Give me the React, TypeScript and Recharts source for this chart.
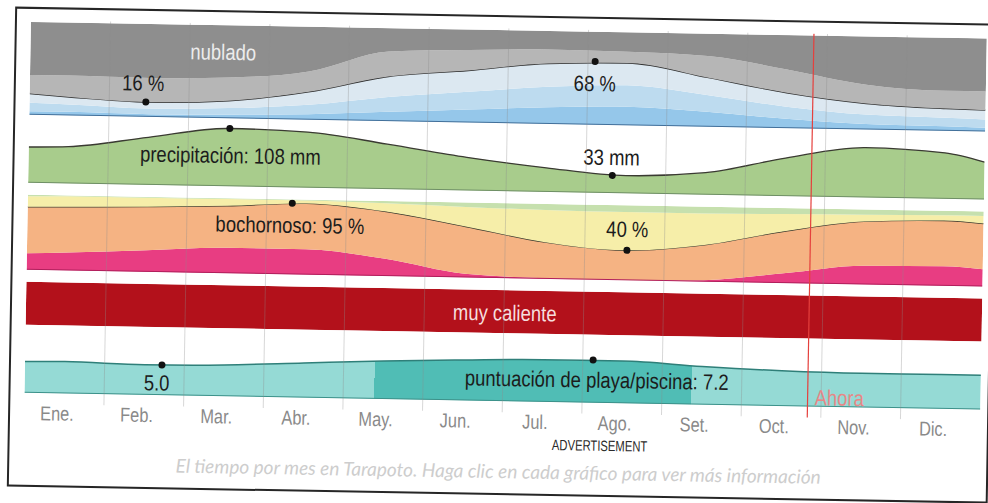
import React from "react";
import {
  AreaChart,
  Area,
  LineChart,
  Line,
  XAxis,
  YAxis,
  ReferenceLine,
  ReferenceDot,
} from "recharts";

// sample positions in months from 1 Jan: the two year ends and every month middle
const samplePos = [0, 0.5, 1.5, 2.5, 3.5, 4.5, 5.5, 6.5, 7.5, 8.5, 9.5, 10.5, 11.5, 12];
const monthLabels = ["Ene.", "Feb.", "Mar.", "Abr.", "May.", "Jun.", "Jul.", "Ago.", "Set.", "Oct.", "Nov.", "Dic."];
const monthMiddles = [0.5, 1.5, 2.5, 3.5, 4.5, 5.5, 6.5, 7.5, 8.5, 9.5, 10.5, 11.5];
const monthStarts = [1, 2, 3, 4, 5, 6, 7, 8, 9, 10, 11];
const nowMonth = 9.83;

// cloud cover, % of time in each category (bottom to top)
const cloudClear = [4, 4, 3, 4, 6, 10, 14, 18, 20, 16, 10, 6, 5, 4];
const cloudMostlyClear = [9, 8, 6, 7, 10, 16, 19, 22, 23, 18, 13, 10, 9, 9];
const cloudPartly = [10, 8, 7, 8, 14, 22, 23, 25, 24, 19, 15, 12, 10, 10];
const cloudMostlyCloudy = [20, 23, 26, 25, 22, 27, 22, 15, 12, 23, 25, 20, 19, 20];
const cloudOvercast = [57, 57, 58, 56, 48, 25, 22, 20, 21, 24, 37, 52, 57, 57];

// monthly rainfall, mm
const rainMm = [67, 69, 89, 108, 104, 84, 62, 45, 33, 41, 71, 93, 86, 70];

// humidity comfort, % of time (bottom to top)
const humidOppressive = [22, 24, 29, 34, 34, 23, 5, 1, 0, 2, 13, 25, 26, 23];
const humidMuggy = [62, 61, 58, 56, 61, 63, 63, 48, 40, 47, 56, 59, 61, 61];
const humidComfortable = [14, 14, 12, 9, 4, 11, 26, 43, 51, 42, 23, 9, 7, 10];
const humidDry = [2, 1, 1, 1, 1, 3, 6, 8, 9, 9, 8, 7, 6, 6];

// temperature class: "muy caliente" all year
const hotBand = [1, 1, 1, 1, 1, 1, 1, 1, 1, 1, 1, 1, 1, 1];

// beach / pool score
const beachScore = [5.2, 5.3, 5.0, 5.2, 5.8, 6.4, 6.8, 7.1, 7.1, 6.4, 5.9, 5.7, 5.7, 5.7];
const beachBestStart = 4.39;
const beachBestEnd = 8.37;

// marked extremes
const cloudMin = { m: 1.46, v: 16 };
const cloudMax = { m: 7.09, v: 68 };
const rainMax = { m: 2.52, v: 108 };
const rainMin = { m: 7.33, v: 33 };
const humidMax = { m: 3.32, v: 95 };
const humidMin = { m: 7.53, v: 40 };
const beachMin = { m: 1.72, v: 5.0 };
const beachMax = { m: 7.13, v: 7.2 };

const cloudRows = samplePos.map((m, i) => ({
  m,
  clear: cloudClear[i],
  mostlyClear: cloudMostlyClear[i],
  partly: cloudPartly[i],
  mostlyCloudy: cloudMostlyCloudy[i],
  overcast: cloudOvercast[i],
}));
const rainRows = samplePos.map((m, i) => ({ m, rain: rainMm[i] }));
const humidRows = samplePos.map((m, i) => ({
  m,
  oppressive: humidOppressive[i],
  muggy: humidMuggy[i],
  comfortable: humidComfortable[i],
  dry: humidDry[i],
}));
const hotRows = samplePos.map((m, i) => ({ m, hot: hotBand[i] }));
const beachRows = samplePos.map((m, i) => ({ m, score: beachScore[i] }));
const tickRows = monthMiddles.map((m) => ({ m, z: 0 }));

const PLOT_LEFT = 27;
const PLOT_W = 956;
const noMargin = { top: 0, right: 0, bottom: 0, left: 0 };
const sans = "'Liberation Sans', Arial, sans-serif";

// condensed text (Arial Narrow look) centred on the dot plus an offset
const DotLabel = (props: any) => {
  const { viewBox, t, ox = 0, oy = 0, fill = "#1c1c1c", size = 22 } = props;
  const cx = viewBox.x + viewBox.width / 2 + ox;
  const cy = viewBox.y + viewBox.height / 2 + oy;
  return (
    <text
      transform={`translate(${cx},${cy}) scale(0.84,1)`}
      textAnchor="middle"
      dominantBaseline="central"
      fill={fill}
      fontSize={size}
      fontFamily={sans}
    >
      {t}
    </text>
  );
};

const NowLabel = (props: any) => {
  const { viewBox } = props;
  return (
    <text
      transform={`translate(${viewBox.x + 7},${viewBox.y + viewBox.height - 20}) scale(0.84,1)`}
      textAnchor="start"
      dominantBaseline="central"
      fill="#e78787"
      fontSize={22}
      fontFamily={sans}
    >
      Ahora
    </text>
  );
};

const MonthTick = (props: any) => {
  const { x, y, index } = props;
  return (
    <text
      transform={`translate(${x - 7},${y + 9}) scale(0.82,1)`}
      textAnchor="middle"
      dominantBaseline="central"
      fill="#8a8a8a"
      fontSize={20}
      fontFamily={sans}
    >
      {monthLabels[index]}
    </text>
  );
};

export default function App() {
  const xAxis = <XAxis type="number" dataKey="m" domain={[0, 12]} hide allowDataOverflow />;
  const band = (top: number) => ({ position: "absolute" as const, left: PLOT_LEFT, top });

  return (
    <div
      style={{
        position: "absolute",
        left: 0,
        top: 0,
        width: 988,
        height: 503,
        background: "#fff",
        overflow: "hidden",
      }}
    >
      <div
        style={{
          position: "absolute",
          left: 0,
          top: 0,
          width: 988,
          height: 503,
          transform: "rotate(1deg)",
          transformOrigin: "494px 251px",
        }}
      >
        <div
          style={{
            position: "absolute",
            left: 11,
            top: 15,
            width: 981,
            height: 480,
            border: "2px solid #262626",
            boxSizing: "border-box",
          }}
        />

        {/* cloud cover */}
        <div style={band(30)}>
          <AreaChart width={PLOT_W} height={93} data={cloudRows} margin={noMargin}>
            {xAxis}
            <YAxis hide domain={[0, 100]} allowDataOverflow />
            <Area type="monotone" dataKey="clear" stackId="c" fill="#95c7ea" fillOpacity={1} stroke="none" isAnimationActive={false} />
            <Area type="monotone" dataKey="mostlyClear" stackId="c" fill="#bddbef" fillOpacity={1} stroke="none" isAnimationActive={false} />
            <Area type="monotone" dataKey="partly" stackId="c" fill="#dce8f1" fillOpacity={1} stroke="#2e2e2e" strokeWidth={1.4} isAnimationActive={false} />
            <Area type="monotone" dataKey="mostlyCloudy" stackId="c" fill="#b6b6b6" fillOpacity={1} stroke="none" isAnimationActive={false} />
            <Area type="monotone" dataKey="overcast" stackId="c" fill="#8e8e8e" fillOpacity={1} stroke="none" isAnimationActive={false} />
            <ReferenceLine y={0} stroke="#43709a" strokeWidth={2} />
            <ReferenceDot x={2.42} y={71} r={0} fill="none" stroke="none" label={<DotLabel t="nublado" fill="#ececec" />} />
            <ReferenceDot x={cloudMin.m} y={cloudMin.v} r={3.5} fill="#111" stroke="none" label={<DotLabel t="16 %" ox={-3} oy={-19} />} />
            <ReferenceDot x={cloudMax.m} y={cloudMax.v} r={3.5} fill="#111" stroke="none" label={<DotLabel t="68 %" ox={0} oy={22} />} />
          </AreaChart>
        </div>

        {/* precipitation */}
        <div style={band(123)}>
          <AreaChart width={PLOT_W} height={68} data={rainRows} margin={noMargin}>
            {xAxis}
            <YAxis hide domain={[0, 127]} allowDataOverflow />
            <Area type="monotone" dataKey="rain" fill="#a8cc8c" fillOpacity={1} stroke="#3a3a32" strokeWidth={1.3} isAnimationActive={false} />
            <ReferenceLine y={0} stroke="#6f8f66" strokeWidth={2} />
            <ReferenceDot x={rainMax.m} y={rainMax.v} r={3.5} fill="#111" stroke="none" label={<DotLabel t="precipitación: 108 mm" ox={1} oy={27} />} />
            <ReferenceDot x={rainMin.m} y={rainMin.v} r={3.5} fill="#111" stroke="none" label={<DotLabel t="33 mm" ox={-1} oy={-18} />} />
          </AreaChart>
        </div>

        {/* humidity comfort */}
        <div style={band(203)}>
          <AreaChart width={PLOT_W} height={75} data={humidRows} margin={noMargin}>
            {xAxis}
            <YAxis hide domain={[0, 100]} allowDataOverflow />
            <Area type="monotone" dataKey="oppressive" stackId="h" fill="#e83d82" fillOpacity={1} stroke="none" isAnimationActive={false} />
            <Area type="monotone" dataKey="muggy" stackId="h" fill="#f5b383" fillOpacity={1} stroke="#3a3a2e" strokeWidth={1.3} isAnimationActive={false} />
            <Area type="monotone" dataKey="comfortable" stackId="h" fill="#f6eea9" fillOpacity={1} stroke="none" isAnimationActive={false} />
            <Area type="monotone" dataKey="dry" stackId="h" fill="#c6e0ae" fillOpacity={1} stroke="none" isAnimationActive={false} />
            <ReferenceLine y={0} stroke="#b01f5c" strokeWidth={2} />
            <ReferenceDot x={humidMax.m} y={humidMax.v} r={3.5} fill="#111" stroke="none" label={<DotLabel t="bochornoso: 95 %" ox={-2} oy={22} />} />
            <ReferenceDot x={humidMin.m} y={humidMin.v} r={3.5} fill="#111" stroke="none" label={<DotLabel t="40 %" ox={0} oy={-21} />} />
          </AreaChart>
        </div>

        {/* temperature class */}
        <div style={band(290)}>
          <AreaChart width={PLOT_W} height={43} data={hotRows} margin={noMargin}>
            {xAxis}
            <YAxis hide domain={[0, 1]} allowDataOverflow />
            <Area type="linear" dataKey="hot" fill="#b3111b" fillOpacity={1} stroke="none" isAnimationActive={false} />
            <ReferenceDot x={6.01} y={0.47} r={0} fill="none" stroke="none" label={<DotLabel t="muy caliente" fill="#f6dede" />} />
          </AreaChart>
        </div>

        {/* beach / pool score */}
        <div style={band(344)}>
          <AreaChart width={PLOT_W} height={57} data={beachRows} margin={noMargin}>
            <defs>
              <linearGradient id="beachFill" x1="0" y1="0" x2="1" y2="0">
                <stop offset={0} stopColor="#95dad5" />
                <stop offset={beachBestStart / 12} stopColor="#95dad5" />
                <stop offset={beachBestStart / 12} stopColor="#50bdb5" />
                <stop offset={beachBestEnd / 12} stopColor="#50bdb5" />
                <stop offset={beachBestEnd / 12} stopColor="#95dad5" />
                <stop offset={1} stopColor="#95dad5" />
              </linearGradient>
            </defs>
            {xAxis}
            <YAxis hide domain={[-0.3, 9.7]} allowDataOverflow />
            <Area type="monotone" dataKey="score" baseValue="dataMin" fill="url(#beachFill)" fillOpacity={1} stroke="#2f7f79" strokeWidth={1.5} isAnimationActive={false} />
            <ReferenceLine y={-0.3} stroke="#3d918a" strokeWidth={2} />
            <ReferenceDot x={beachMin.m} y={beachMin.v} r={3.5} fill="#111" stroke="none" label={<DotLabel t="5.0" ox={-5} oy={18} />} />
            <ReferenceDot x={beachMax.m} y={beachMax.v} r={3.5} fill="#111" stroke="none" label={<DotLabel t="puntuación de playa/piscina: 7.2" ox={4} oy={20} />} />
          </AreaChart>
        </div>

        {/* month grid, "now" line and month labels */}
        <div style={{ ...band(28), pointerEvents: "none" }}>
          <LineChart width={PLOT_W} height={418} data={tickRows} margin={noMargin}>
            <XAxis
              type="number"
              dataKey="m"
              domain={[0, 12]}
              ticks={monthMiddles}
              interval={0}
              axisLine={false}
              tickLine={false}
              tickSize={0}
              tickMargin={0}
              height={34}
              tick={<MonthTick />}
            />
            <YAxis hide domain={[0, 1]} />
            {monthStarts.map((m) => (
              <ReferenceLine key={m} x={m} stroke="#8c8c8c" strokeOpacity={0.35} />
            ))}
            <ReferenceLine x={nowMonth} stroke="#e5403d" strokeWidth={1.2} label={<NowLabel />} />
            <Line dataKey="z" stroke="none" dot={false} isAnimationActive={false} />
          </LineChart>
        </div>

        <div
          style={{
            position: "absolute",
            left: 533,
            top: 438,
            width: 140,
            textAlign: "center",
            fontFamily: sans,
            fontSize: 15,
            lineHeight: "12px",
            color: "#2a2a2a",
            transform: "scaleX(0.75)",
          }}
        >
          ADVERTISEMENT
        </div>
        <div
          style={{
            position: "absolute",
            left: 176,
            top: 461,
            width: 652,
            textAlign: "center",
            whiteSpace: "nowrap",
            fontFamily: "Lato, sans-serif",
            fontStyle: "italic",
            fontSize: 19,
            lineHeight: "19px",
            color: "#cdcdcd",
          }}
        >
          El tiempo por mes en Tarapoto. Haga clic en cada gráfico para ver más información
        </div>
      </div>
    </div>
  );
}
